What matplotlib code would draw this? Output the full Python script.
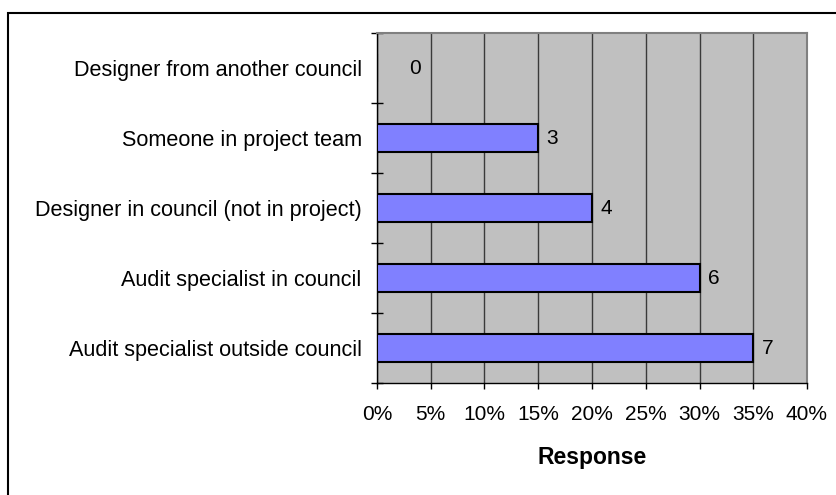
import matplotlib
matplotlib.use("Agg")
import matplotlib.pyplot as plt
from matplotlib.patches import Rectangle
from matplotlib.ticker import FuncFormatter

# data, top to bottom as in the chart
categories = [
    "Designer from another council",
    "Someone in project team",
    "Designer in council (not in project)",
    "Audit specialist in council",
    "Audit specialist outside council",
]
percent = [0, 15, 20, 30, 35]
counts = [0, 3, 4, 6, 7]

plt.rcParams['font.family'] = ['Liberation Sans', 'DejaVu Sans']

fig = plt.figure(figsize=(8.37, 4.95), dpi=100)
ax = fig.add_axes([377 / 837, 1 - 383 / 495, 430 / 837, 350 / 495])

ypos = list(range(len(categories)))[::-1]
ax.barh(ypos, percent, height=0.39, color='#8080FF', edgecolor='black',
        linewidth=1.5, zorder=3)

for y, p, c in zip(ypos, percent, counts):
    off = 6 if p > 0 else 23
    ax.annotate(str(c), (p, y), xytext=(off, 0), textcoords='offset points',
                ha='left', va='center', fontsize=15, zorder=4)

ax.set_facecolor('#C0C0C0')
ax.set_xlim(0, 40)
ax.set_ylim(-0.5, len(categories) - 0.5)
ax.set_xticks(range(0, 41, 5))
ax.xaxis.set_major_formatter(FuncFormatter(lambda v, _: f"{v:.0f}%"))
ax.grid(axis='x', color='#3a3a3a', linewidth=1, zorder=1)

ax.set_yticks(ypos)
ax.set_yticklabels(categories)
ax.set_yticks([i - 0.5 for i in range(len(categories) + 1)], minor=True)
ax.tick_params(axis='y', which='major', length=0, pad=11, labelsize=15.6)
ax.tick_params(axis='y', which='minor', direction='inout', length=9, width=1)
ax.tick_params(axis='x', direction='out', length=4, width=1, pad=12, labelsize=15)

for side in ['top', 'right']:
    ax.spines[side].set_color('#808080')
    ax.spines[side].set_linewidth(1.5)
ax.spines['left'].set_linewidth(1)
ax.spines['bottom'].set_linewidth(1)

ax.set_xlabel('Response', fontsize=16.5, fontweight='bold', labelpad=16)

# chart area border (runs off the right and bottom edges)
fig.patches.append(Rectangle((8 / 837, -0.05), 1.1, 1.05 - 13 / 495,
                             transform=fig.transFigure, fill=False,
                             edgecolor='black', linewidth=1.5))

fig.savefig('out.png', dpi=100)
